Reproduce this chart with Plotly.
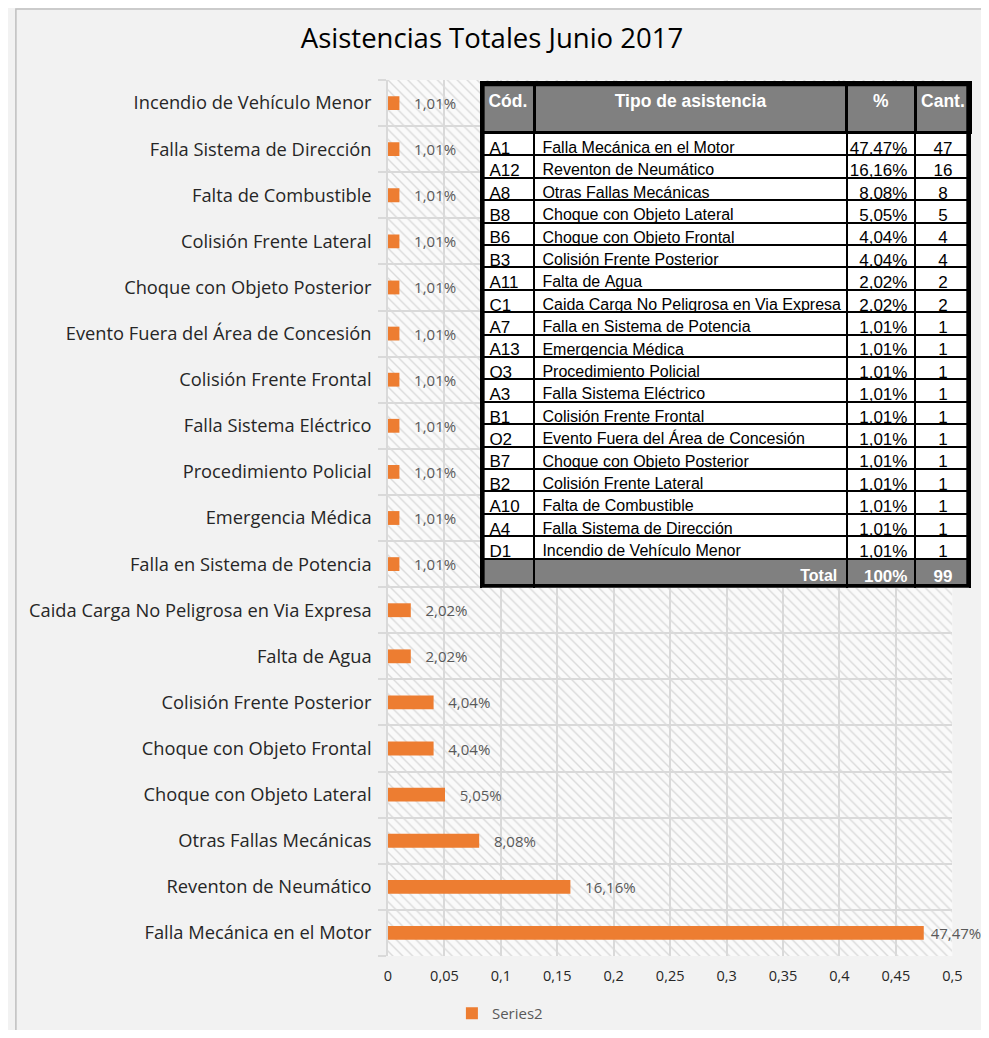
import plotly.graph_objects as go

# ---------------- data ----------------
categories = [
    "Falla Mecánica en el Motor",
    "Reventon de Neumático",
    "Otras Fallas Mecánicas",
    "Choque con Objeto Lateral",
    "Choque con Objeto Frontal",
    "Colisión Frente Posterior",
    "Falta de Agua",
    "Caida Carga No Peligrosa en Via Expresa",
    "Falla en Sistema de Potencia",
    "Emergencia Médica",
    "Procedimiento Policial",
    "Falla Sistema Eléctrico",
    "Colisión Frente Frontal",
    "Evento Fuera del Área de Concesión",
    "Choque con Objeto Posterior",
    "Colisión Frente Lateral",
    "Falta de Combustible",
    "Falla Sistema de Dirección",
    "Incendio de Vehículo Menor",
]
values = [0.4747, 0.1616, 0.0808, 0.0505, 0.0404, 0.0404, 0.0202, 0.0202,
          0.0101, 0.0101, 0.0101, 0.0101, 0.0101, 0.0101, 0.0101, 0.0101,
          0.0101, 0.0101, 0.0101]

table_codes = ["A1", "A12", "A8", "B8", "B6", "B3", "A11", "C1", "A7", "A13",
               "O3", "A3", "B1", "O2", "B7", "B2", "A10", "A4", "D1"]
table_types = [
    "Falla Mecánica en el Motor", "Reventon de Neumático", "Otras Fallas Mecánicas",
    "Choque con Objeto Lateral", "Choque con Objeto Frontal", "Colisión Frente Posterior",
    "Falta de Agua", "Caida Carga No Peligrosa en Via Expresa", "Falla en Sistema de Potencia",
    "Emergencia Médica", "Procedimiento Policial", "Falla Sistema Eléctrico",
    "Colisión Frente Frontal", "Evento Fuera del Área de Concesión",
    "Choque con Objeto Posterior", "Colisión Frente Lateral", "Falta de Combustible",
    "Falla Sistema de Dirección", "Incendio de Vehículo Menor",
]
table_pct = ["47,47%", "16,16%", "8,08%", "5,05%", "4,04%", "4,04%", "2,02%", "2,02%",
             "1,01%", "1,01%", "1,01%", "1,01%", "1,01%", "1,01%", "1,01%", "1,01%",
             "1,01%", "1,01%", "1,01%"]
table_counts = ["47", "16", "8", "5", "4", "4", "2", "2", "1", "1", "1", "1", "1",
                "1", "1", "1", "1", "1", "1"]
table_header = ["Cód.", "Tipo de asistencia", "%", "Cant."]
total_row = ["", "Total", "100%", "99"]

x_ticks = [0, 0.05, 0.1, 0.15, 0.2, 0.25, 0.3, 0.35, 0.4, 0.45, 0.5]
AXIS_MAX = 0.5

# ---------------- layout constants ----------------
# the page body adds an 8px margin on every side; keep the page at 989x1038
OFF = 8
W, H = 989 - 2 * OFF, 1038 - 2 * OFF
L, T = 388 - OFF, 80 - OFF
R = 0
B = H - (958 - OFF)
PLOT_W = W - L - R
PLOT_H = H - T - B
x_dom_end = (962 - OFF - L) / PLOT_W


def px_x(p):  # reference pixel -> paper x
    return (p - OFF - L) / PLOT_W


def px_y(p):  # reference pixel -> paper y
    return (H - B - (p - OFF)) / PLOT_H


ORANGE = "#ED7D31"
GRID = "#D9D9D9"
LABEL_FONT = "Open Sans"
TABLE_FONT = "Liberation Sans"
NBSP = "\u00a0"

fig = go.Figure()

# hatched plot-area background
fig.add_trace(go.Bar(
    y=categories, x=[AXIS_MAX] * len(categories), orientation="h",
    width=1.0, showlegend=False, hoverinfo="skip",
    marker=dict(color="rgba(0,0,0,0)", line=dict(width=0),
                pattern=dict(shape="\\", fgcolor="#DADADA", bgcolor="rgba(0,0,0,0)",
                             size=7, solidity=0.2, fillmode="replace")),
))

# data bars
vmax = max(values)
bar_text = [(" " if v == vmax else "   ") + f"{v * 100:.2f}%".replace(".", ",")
            for v in values]
fig.add_trace(go.Bar(
    y=categories, x=values, orientation="h", name="Series2",
    width=0.3, marker=dict(color=ORANGE, line=dict(width=0)),
    text=bar_text, textposition="outside", cliponaxis=False,
    constraintext="none",
    textfont=dict(family=LABEL_FONT, size=15, color="#595959"),
))

# table
n = len(table_codes)
col_codes = table_codes + [total_row[0]]
col_types = [t.replace(" ", NBSP) for t in table_types] + \
    [NBSP * 58 + "<b>" + total_row[1] + "</b>"]
col_pct = table_pct + ["<b>" + total_row[2] + "</b>"]
col_cnt = table_counts + ["<b>" + total_row[3] + "</b>"]
row_fill = ["white"] * n + ["#808080"]
font_colors = ["black"] * n + ["white"]

tbl_x0, tbl_x1, tbl_y0, tbl_y1 = 483, 978, 590, 83
fig.add_trace(go.Table(
    domain=dict(x=[px_x(tbl_x0), 1.0], y=[px_y(tbl_y0), px_y(tbl_y1)]),
    columnwidth=[54, 318, 70, 56],
    header=dict(
        values=[f"<b>{h}</b>" for h in table_header],
        fill_color="#808080", line=dict(color="black", width=3),
        font=dict(family=TABLE_FONT, size=17.5, color="white"),
        align="center", height=50,
    ),
    cells=dict(
        values=[col_codes, col_types, col_pct, col_cnt],
        fill_color=[row_fill] * 4,
        line=dict(color="black", width=2),
        font=dict(family=TABLE_FONT, size=[17, 16, 17, 17], color=[font_colors] * 4),
        align=["left", "left", "right", "center"],
        height=22.4,
    ),
))

fig.update_layout(
    width=W, height=H,
    margin=dict(l=L, r=R, t=T, b=B, pad=0),
    paper_bgcolor="#F2F2F2",
    plot_bgcolor="#FAFAFA",
    separators=",.",
    barmode="overlay",
    font=dict(family=LABEL_FONT, color="#262626"),
    title=dict(text="Asistencias Totales Junio 2017", x=(492 - OFF) / W, xanchor="center",
               y=1 - (38 - OFF) / H, yanchor="middle", xref="container", yref="container",
               font=dict(family=LABEL_FONT, size=27.5, color="black")),
    xaxis=dict(domain=[0, x_dom_end], range=[0, AXIS_MAX], tickvals=x_ticks,
               showgrid=True, gridcolor=GRID, gridwidth=1.5,
               zeroline=False, showline=False, ticks="",
               tickfont=dict(family=LABEL_FONT, size=14.5, color="#262626"),
               ticklabelstandoff=9, fixedrange=True),
    yaxis=dict(categoryorder="array", categoryarray=categories,
               tickson="boundaries", showgrid=True, gridcolor=GRID, gridwidth=1.5,
               ticks="outside", ticklen=8, tickcolor=GRID, tickwidth=1.5,
               showline=True, linecolor=GRID, linewidth=1.5,
               tickfont=dict(family=LABEL_FONT, size=18.3, color="#262626"),
               ticklabelstandoff=11, range=[-0.5, len(categories) - 0.5],
               fixedrange=True),
    legend=dict(orientation="h", x=px_x(453), xanchor="left",
                y=px_y(1016), yanchor="middle",
                font=dict(family=LABEL_FONT, size=15, color="#595959"),
                bgcolor="rgba(0,0,0,0)"),
    showlegend=True,
    shapes=[
        dict(type="rect", xref="paper", yref="paper",
             x0=px_x(9.5), x1=px_x(1010), y0=px_y(1060), y1=px_y(8.8),
             line=dict(color="#BFBFBF", width=1.5), fillcolor="rgba(0,0,0,0)",
             layer="below"),
        dict(type="rect", xref="paper", yref="paper",
             x0=px_x(tbl_x0 + 1.5), x1=px_x(tbl_x1), y0=px_y(tbl_y0 - 3),
             y1=px_y(tbl_y1 + 1.5),
             line=dict(color="black", width=3.5), fillcolor="rgba(0,0,0,0)",
             layer="above"),
    ],
)

fig.write_html("out.html")
